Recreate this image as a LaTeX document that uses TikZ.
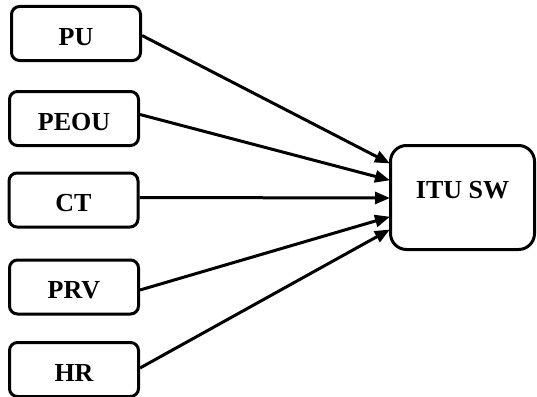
\documentclass[tikz,border=0pt]{standalone}
\usepackage{fontspec}
\setmainfont{Liberation Serif}
\usetikzlibrary{arrows.meta,calc}
\begin{document}
\begin{tikzpicture}[x=1pt,y=-1pt,
  factor/.style={draw=black, line width=3pt, rounded corners=8pt,
    minimum width=129pt, minimum height=54pt, inner sep=0pt},
  target/.style={draw=black, line width=3pt, rounded corners=16pt,
    minimum width=144pt, minimum height=104pt, inner sep=0pt},
  lbl/.style={font=\fontsize{26}{30}\selectfont\bfseries, inner sep=0pt},
  link/.style={line width=3pt, -{Triangle[length=15pt,width=12pt]}, shorten >=-1pt}]
\useasboundingbox (0,0) rectangle (537,396);

% input factors
\node[factor] (pu)   at (76,33.5)  {};
\node[factor] (peou) at (74,118.5) {};
\node[factor] (ct)   at (73.5,200) {};
\node[factor] (prv)  at (74,287)   {};
\node[factor] (hr)   at (74,369.5) {};
\node[lbl] (tpu)   at ($(pu)+(0,3.5)$)   {PU};
\node[lbl] (tpeou) at ($(peou)+(0,3.5)$) {PEOU};
\node[lbl] (tct)   at ($(ct)+(0,3.5)$)   {CT};
\node[lbl] (tprv)  at ($(prv)+(0,3.5)$)  {PRV};
\node[lbl] (thr)   at ($(hr)+(0,3.5)$)   {HR};

% outcome
\node[target] (itu) at (462.5,197.5) {};
\node[lbl] (titu) at ($(itu)+(0,-7)$) {ITU SW};

% entry points on the outcome box
\coordinate (e1) at ($(itu.west)+(0,-34.5)$);
\coordinate (e2) at ($(itu.west)+(0,-17.5)$);
\coordinate (e3) at ($(itu.west)+(0,0.5)$);
\coordinate (e4) at ($(itu.west)+(0,19.5)$);
\coordinate (e5) at ($(itu.west)+(0,32.5)$);

\draw[link] ($(pu.east)+(0,2)$)    -- (e1);
\draw[link] ($(peou.east)+(0,-4)$) -- (e2);
\draw[link] ($(ct.east)+(0,-2.5)$) -- (e3);
\draw[link] ($(prv.east)+(0,3)$)   -- (e4);
\draw[link] ($(hr.east)+(0,-1.5)$) -- (e5);
\end{tikzpicture}
\end{document}
